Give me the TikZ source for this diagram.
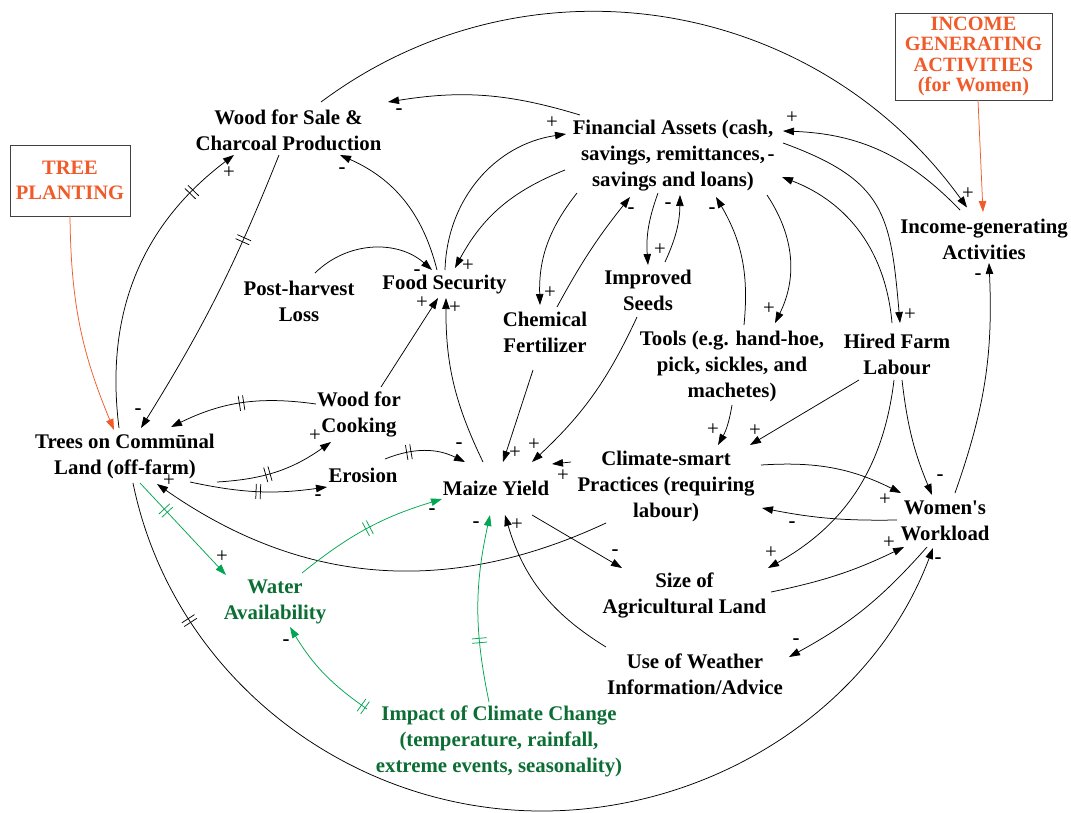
\documentclass[tikz,border=0pt]{standalone}
\usepackage{fontspec}
\setmainfont{Liberation Serif}
\usetikzlibrary{arrows.meta,decorations.markings,calc}
\definecolor{orng}{RGB}{241,90,41}
\definecolor{gtxt}{RGB}{12,110,52}
\definecolor{garr}{RGB}{0,166,81}
\begin{document}
\begin{tikzpicture}[x=1pt,y=-1pt,
  lbl/.style={font=\bfseries\fontsize{20.8}{26}\selectfont,align=center,inner sep=0pt},
  box/.style={draw=black!75,line width=0.9pt,text=orng,align=center,inner sep=0pt},
  lnk/.style={draw,line width=0.75pt,-{Triangle[length=11pt,width=7.5pt]}},
  glnk/.style={lnk,garr},
  olnk/.style={lnk,orng},
  pl/.style={font=\fontsize{20.8}{20.8}\selectfont,inner sep=0pt},
  mn/.style={font=\bfseries\fontsize{20.8}{20.8}\selectfont,inner sep=0pt,yshift=2pt},
  delaymark/.style={postaction={decorate,decoration={markings,mark=at position #1 with {\draw[-,line width=0.75pt] (-2.2,-7.5) -- (-2.2,7.5) (2.2,-7.5) -- (2.2,7.5);}}}}
]
\fill[white] (0,0) rectangle (1071,812);
\useasboundingbox (0,0) rectangle (1071,812);

% boxes
\node[box,minimum width=120pt,minimum height=71pt,font=\bfseries\fontsize{20.5}{25}\selectfont] (tp) at (70,180.5) {TREE\\PLANTING};
\node[box,minimum width=157pt,minimum height=87pt,font=\bfseries\fontsize{20.3}{20.5}\selectfont] (igb) at (973.5,56.5) {INCOME\\GENERATING\\ACTIVITIES\\(for Women)};

% variables
\node[lbl] (wfs) at (288.5,130) {Wood for Sale \&\\Charcoal Production};
\node[lbl] (fin) at (673,156) {Financial Assets (cash,\\savings, remittances,\\savings and loans)};
\node[lbl] (igen) at (984,239.5) {Income-generating\\Activities};
\node[lbl] (phl) at (299,301.5) {Post-harvest\\Loss};
\node[lbl] (fs) at (444.5,285) {Food Security};
\node[lbl] (seeds) at (648,290.5) {Improved\\Seeds};
\node[lbl] (chem) at (545,332) {Chemical\\Fertilizer};
\node[lbl] (tools) at (732,366) {Tools (e.g. hand-hoe,\\pick, sickles, and\\machetes)};
\node[lbl] (hired) at (897,354.5) {Hired Farm\\Labour};
\node[lbl] (trees) at (125,456.5) {Trees on Commūnal\\Land (off-farm)};
\node[lbl] (wfc) at (359,414.5) {Wood for\\Cooking};
\node[lbl] (ero) at (363,475) {Erosion};
\node[lbl] (maize) at (496,488) {Maize Yield};
\node[lbl] (csp) at (666,486) {Climate-smart\\Practices (requiring\\labour)};
\node[lbl] (ww) at (945,520.5) {Women\textquotesingle s\\Workload};
\node[lbl,text=gtxt] (water) at (275,602) {Water\\Availability};
\node[lbl] (size) at (684.5,595) {Size of\\Agricultural Land};
\node[lbl] (wea) at (695,674.5) {Use of Weather\\Information/Advice};
\node[lbl,text=gtxt] (icc) at (499,741.5) {Impact of Climate Change\\(temperature, rainfall,\\extreme events, seasonality)};

% connectors
\draw[lnk] ($(wfs)+(32.5,-28)$) .. controls (526,-51) and (814,-5) .. ($(igen)+(-17,-32)$);
\draw[lnk] ($(fin)+(-93,-41)$) to[bend right=13] ($(wfs)+(99.5,-28)$);
\draw[lnk,delaymark=0.82] ($(trees)+(-6,-28.5)$) to[bend left=30] ($(wfs)+(-54.5,25)$);
\draw[lnk,delaymark=0.3] ($(wfs)+(-9.5,25)$) to[bend left=5] ($(trees)+(16,-28.5)$);
\draw[lnk] ($(fs)+(-7.5,-15)$) to[bend right=26] ($(wfs)+(51.5,25)$);
\draw[lnk] ($(phl)+(16,-28.5)$) to[bend left=43] ($(fs)+(-12.5,-15)$);
\draw[lnk] ($(fin)+(-108,14)$) to[bend right=20] ($(fs)+(10.5,-17)$);
\draw[lnk] ($(fs)+(0.5,-15)$) to[bend left=40] ($(fin)+(-107,-22)$);
\draw[lnk] ($(wfc)+(22,-27.5)$) -- ($(fs)+(-6.5,13)$);
\draw[lnk] ($(maize)+(-13,-26)$) to[bend left=13] ($(fs)+(1.5,13)$);
\draw[lnk] ($(fin)+(-96,37)$) to[bend right=20] ($(chem)+(-5,-27)$);
\draw[lnk] ($(chem)+(12,-25)$) to[bend left=5] ($(fin)+(-43,41)$);
\draw[lnk] ($(fin)+(-15,37)$) to[bend right=12] ($(seeds)+(0,-25.5)$);
\draw[lnk] ($(seeds)+(17,-28.5)$) to[bend right=12] ($(fin)+(7,39)$);
\draw[lnk] ($(fin)+(94,39)$) to[bend left=30] ($(tools)+(43,-43)$);
\draw[lnk] ($(tools)+(12,-41)$) to[bend right=18] ($(fin)+(43,41)$);
\draw[lnk] ($(fin)+(110,-13)$) to[out=-20,in=95,looseness=1.3] ($(hired)+(3,-31.5)$);
\draw[lnk] ($(hired)+(-5,-31.5)$) to[bend right=32] ($(fin)+(109,21)$);
\draw[lnk] ($(igen)+(-24,-29.5)$) to[bend right=22] ($(fin)+(110,-25)$);
\draw[olnk] ($(igb)+(4.5,43.5)$) -- ($(igen)+(-1,-27.5)$);
\draw[olnk] ($(tp)+(0,35.5)$) to[bend right=11] ($(trees)+(-11,-26.5)$);
\draw[lnk,delaymark=0.5] ($(wfc)+(-43,-10.5)$) to[bend right=17] ($(trees)+(46,-29.5)$);
\draw[lnk,delaymark=0.42] ($(trees)+(92,25.5)$) to[bend right=16] ($(wfc)+(-28,27.5)$);
\draw[lnk,delaymark=0.5] ($(trees)+(65,25.5)$) to[bend right=10] ($(ero)+(-36,12)$);
\draw[lnk,delaymark=0.3] ($(ero)+(22,-16)$) to[bend left=24] ($(maize)+(-31,-26)$);
\draw[lnk] ($(chem)+(-12,38)$) -- ($(maize)+(7,-26)$);
\draw[lnk] ($(seeds)+(-11,26.5)$) to[bend left=11] ($(maize)+(36,-26)$);
\draw[lnk] ($(csp)+(-95,-24)$) -- ($(maize)+(56,-24)$);
\draw[lnk] ($(tools)+(0,39)$) to[bend left=10] ($(csp)+(52,-41)$);
\draw[lnk] ($(hired)+(-38,25.5)$) -- ($(csp)+(84,-41)$);
\draw[lnk] ($(hired)+(5,25.5)$) to[bend right=8] ($(ww)+(-13,-25.5)$);
\draw[lnk] ($(hired)+(-3,25.5)$) to[bend left=27] ($(size)+(83.5,-27)$);
\draw[lnk] ($(csp)+(95,-21)$) to[bend left=15] ($(ww)+(-44,-27.5)$);
\draw[lnk] ($(ww)+(-48,-0.5)$) to[bend left=6] ($(csp)+(96,22)$);
\draw[lnk] ($(ww)+(10,-27.5)$) to[bend right=11] ($(igen)+(5,23.5)$);
\draw[lnk] ($(size)+(86.5,-3)$) to[bend right=7] ($(ww)+(-41,26.5)$);
\draw[lnk] ($(ww)+(-18,26.5)$) to[bend left=10] ($(wea)+(94,-17.5)$);
\draw[lnk,delaymark=0.14] ($(trees)+(8,26.5)$) .. controls (172,674.5) and (346.6,811) .. (542,811) .. controls (712.9,811) and (872.7,708) .. ($(ww)+(-12,27.5)$);
\draw[lnk] ($(csp)+(-60,37)$) to[bend left=30] ($(trees)+(32,27.5)$);
\draw[lnk] ($(wea)+(-89,-27.5)$) to[bend left=21] ($(maize)+(9,27)$);
\draw[lnk] ($(maize)+(36,27)$) -- ($(size)+(-62.5,-27)$);
\draw[glnk,delaymark=0.3] ($(trees)+(15,26.5)$) -- ($(water)+(-49,-27)$);
\draw[glnk,delaymark=0.5] ($(water)+(27,-29)$) to[bend left=11] ($(maize)+(-54,11)$);
\draw[glnk,delaymark=0.04] ($(icc)+(-132,-32.5)$) to[bend left=12] ($(water)+(15,25)$);
\draw[glnk,delaymark=0.33] ($(icc)+(-10,-39.5)$) to[bend left=12] ($(maize)+(-6,27)$);

% polarity signs
\node[pl] (s1) at (229,173) {+};
\node[mn] (s2) at (342,173) {-};
\node[mn] (s3) at (399,114) {-};
\node[pl] (s4) at (552,123) {+};
\node[pl] (s5) at (792,118) {+};
\node[mn] (s6) at (771,160) {-};
\node[pl] (s7) at (968,194) {+};
\node[mn] (s8) at (631,213) {-};
\node[mn] (s9) at (668,208) {-};
\node[mn] (s10) at (712,213) {-};
\node[pl] (s11) at (660,250) {+};
\node[pl] (s12) at (468,266) {+};
\node[mn] (s13) at (417,275) {-};
\node[pl] (s14) at (550,293) {+};
\node[pl] (s15) at (422,303) {+};
\node[pl] (s16) at (455,308) {+};
\node[pl] (s17) at (769,309) {+};
\node[pl] (s18) at (910,315) {+};
\node[mn] (s19) at (978,279) {-};
\node[mn] (s20) at (138,414) {-};
\node[pl] (s21) at (315,436) {+};
\node[pl] (s22) at (713,430) {+};
\node[pl] (s23) at (755,431) {+};
\node[mn] (s24) at (459,448) {-};
\node[pl] (s25) at (515,453) {+};
\node[pl] (s26) at (534,445) {+};
\node[pl] (s27) at (563,476) {+};
\node[pl] (s28) at (169,481) {+};
\node[mn] (s29) at (318,500) {-};
\node[mn] (s30) at (940,480) {-};
\node[pl] (s31) at (885,500) {+};
\node[mn] (s32) at (432,514) {-};
\node[mn] (s33) at (476,527) {-};
\node[pl] (s34) at (517,525) {+};
\node[mn] (s35) at (792,527) {-};
\node[pl] (s36) at (889,543) {+};
\node[mn] (s37) at (938,563) {-};
\node[mn] (s38) at (615,555) {-};
\node[pl] (s39) at (771,553) {+};
\node[pl] (s40) at (222,557) {+};
\node[mn] (s41) at (796,644) {-};
\node[mn] (s42) at (286,645) {-};
\end{tikzpicture}
\end{document}
